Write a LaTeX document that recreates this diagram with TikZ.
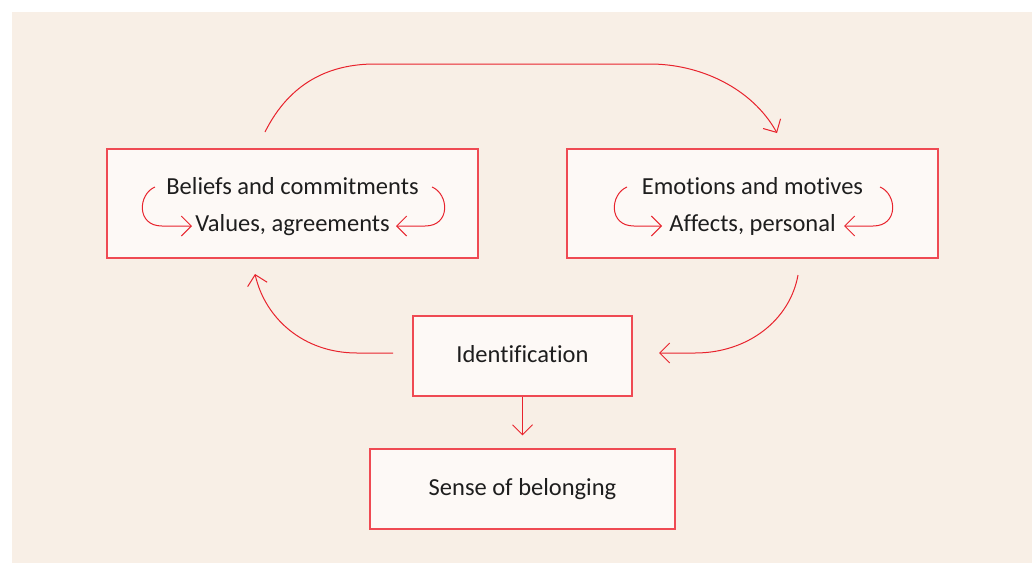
\documentclass[tikz,border=0pt]{standalone}
\usepackage{fontspec}
\setmainfont[Ligatures=CommonOff]{Carlito}
\usetikzlibrary{arrows.meta,calc}
\definecolor{panel}{HTML}{F8EFE6}
\definecolor{boxfill}{HTML}{FDF9F6}
\definecolor{boxline}{HTML}{EF4A53}
\definecolor{arrowred}{HTML}{E8232D}
\definecolor{ink}{HTML}{1E1E1E}
\tikzset{
  panelbox/.style={fill=panel, draw=none},
  stagebox/.style={draw=boxline, fill=boxfill, line width=1.1pt, inner sep=0pt,
    text=ink, font=\fontsize{24.5}{28}\selectfont},
  rowtext/.style={inner sep=0pt, anchor=base, text=ink, font=\fontsize{24.5}{28}\selectfont},
  flow/.style={draw=arrowred, line width=1pt,
    -{Straight Barb[length=10pt,width=20pt,line width=1pt]}},
}
\begin{document}
\begin{tikzpicture}[x=1pt,y=-1pt]
  \useasboundingbox (0,0) rectangle (1032,563);
  \fill[white] (0,0) rectangle (1032,563);
  \path[panelbox] (12,12) rectangle (1032,563);

  % stages
  \node[stagebox, minimum width=371pt, minimum height=109pt] (beliefs) at (292.5,203.5) {};
  \node[stagebox, minimum width=371pt, minimum height=109pt] (emotions) at (752.5,203.5) {};
  \node[stagebox, minimum width=219pt, minimum height=80pt] (ident) at (522.5,356) {};
  \node[stagebox, minimum width=305pt, minimum height=80pt] (sense) at (522.5,489) {};
  \node[rowtext] (identlabel) at (522.5,362) {Identification};
  \node[rowtext] (senselabel) at (522.5,495) {Sense of belonging};

  % two-line contents of the upper stages
  \node[rowtext] (b1) at (292.5,194) {Beliefs and commitments};
  \node[rowtext] (b2) at (292.5,231) {Values, agreements};
  \node[rowtext] (e1) at (752.5,194) {Emotions and motives};
  \node[rowtext] (e2) at (752.5,231) {Affects, personal};

  % ends of the loops inside the stages
  \coordinate (bl1) at (155,187);  \coordinate (bl2) at (192,226);
  \coordinate (br1) at (432,187);  \coordinate (br2) at (396,226);
  \coordinate (el1) at (627,187);  \coordinate (el2) at (662,226);
  \coordinate (er1) at (880,187);  \coordinate (er2) at (844,226);

  \draw[flow] (bl1) .. controls (138,194) and (136,226) .. (162,226) -- (bl2);
  \draw[flow] (br1) .. controls (449,194) and (451,226) .. (425,226) -- (br2);
  \draw[flow] (el1) .. controls (610,194) and (608,226) .. (634,226) -- (el2);
  \draw[flow] (er1) .. controls (897,194) and (899,226) .. (873,226) -- (er2);

  % ends of the cycle arcs
  \coordinate (topstart) at (265,132);
  \coordinate (topend) at (777,133);
  \coordinate (rstart) at (798,275);
  \coordinate (rend) at (659,353);
  \coordinate (lstart) at (393,353);
  \coordinate (lend) at (255,274);

  % cycle between the stages
  \draw[flow] (topstart) .. controls (290,82) and (330,64) .. (375,64)
     -- (650,64) .. controls (700,64) and (752,88) .. (topend);
  \draw[flow] (rstart) .. controls (790,320) and (748,353) .. (695,353) -- (rend);
  \draw[flow] (lstart) -- (357,353) .. controls (303,353) and (265,318) .. (lend);

  % outcome
  \draw[flow, shorten >=13pt] (ident.south) -- (sense.north);
\end{tikzpicture}
\end{document}
